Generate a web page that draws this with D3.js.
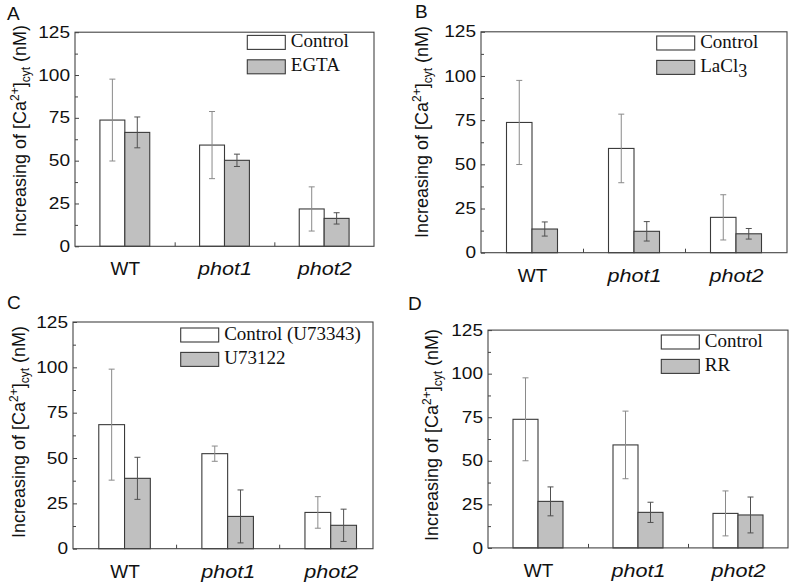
<!DOCTYPE html>
<html>
<head>
<meta charset="utf-8">
<script src="https://cdn.jsdelivr.net/npm/d3@7"></script>
<style>
  html, body { margin: 0; padding: 0; background: #fff; }
  svg { display: block; }
</style>
</head>
<body>
<svg id="chart" width="791" height="582"></svg>
<script>
// ---------- DATA ----------
const categories = ["WT", "phot1", "phot2"];
const italicCategory = [false, true, true];
const yTicks = [0, 25, 50, 75, 100, 125];
const yMinorTicks = [12.5, 37.5, 62.5, 87.5, 112.5];
const xMinorTicks = [1.5, 2.5];
const panelLetters = ["A", "B", "C", "D"];
const controlNames = ["Control", "Control", "Control (U73343)", "Control"];
const treatmentNames = ["EGTA", "LaCl3", "U73122", "RR"];

// Panel A: Control vs EGTA
const controlA = [73.7, 59.1, 21.8];
const controlSdA = [23.9, 19.6, 12.9];
const egta = [66.5, 50.2, 16.3];
const egtaSd = [9.0, 3.6, 3.3];
// Panel B: Control vs LaCl3
const controlB = [73.7, 59.0, 20.0];
const controlSdB = [23.8, 19.4, 12.8];
const lacl3 = [13.4, 12.1, 10.7];
const lacl3Sd = [4.0, 5.5, 3.0];
// Panel C: Control (U73343) vs U73122
const controlC = [68.4, 52.4, 20.0];
const controlSdC = [30.6, 4.2, 8.7];
const u73122 = [38.8, 17.8, 12.9];
const u73122Sd = [11.6, 14.6, 8.9];
// Panel D: Control vs RR
const controlD = [73.8, 59.1, 19.8];
const controlSdD = [23.8, 19.4, 12.9];
const rr = [26.7, 20.4, 18.9];
const rrSd = [8.3, 5.8, 10.3];

const controlSeries = [controlA, controlB, controlC, controlD];
const controlSdSeries = [controlSdA, controlSdB, controlSdC, controlSdD];
const treatSeries = [egta, lacl3, u73122, rr];
const treatSdSeries = [egtaSd, lacl3Sd, u73122Sd, rrSd];

// ---------- LAYOUT ----------
const layouts = [
  {left: 75, right: 374, top: 32.2, bottom: 246.3, xMax: 3.5, lx: 7, ly: 20, tx: 26, tcy: 131, legX: 247.3, legY: 35.4},
  {left: 481, right: 787, top: 31.8, bottom: 252.7, xMax: 3.5, lx: 415, ly: 18, tx: 428, tcy: 132, legX: 656.7, legY: 36},
  {left: 73, right: 373, top: 322, bottom: 548.7, xMax: 3.41, lx: 7, ly: 308.5, tx: 25, tcy: 432, legX: 180.7, legY: 328},
  {left: 488, right: 788, top: 330.1, bottom: 547.9, xMax: 3.5, lx: 408, ly: 309.5, tx: 438, tcy: 435, legX: 661.3, legY: 335}
];

const SANS = "'Liberation Sans', Arial, sans-serif";
const SERIF = "'Liberation Serif', 'Times New Roman', serif";
const GRAY = "#c0c0c0";
const STROKE = "#3a3a3a";

const svg = d3.select("#chart");
svg.append("rect").attr("width", 791).attr("height", 582).attr("fill", "#fff");

panelLetters.forEach((letter, p) => {
  const L = layouts[p];
  const g = svg.append("g");
  const x = d3.scaleLinear().domain([0.5, L.xMax]).range([L.left, L.right]);
  const y = d3.scaleLinear().domain([0, 125]).range([L.bottom, L.top]);
  const bw = x(1.25) - x(1);

  // panel letter
  g.append("text").attr("x", L.lx).attr("y", L.ly)
    .attr("font-family", SANS).attr("font-size", 19).attr("fill", "#111").text(letter);

  // y title
  const t = g.append("text")
    .attr("transform", `translate(${L.tx},${L.tcy}) rotate(-90)`)
    .attr("text-anchor", "middle")
    .attr("font-family", SANS).attr("font-size", 18).attr("fill", "#111");
  t.append("tspan").text("Increasing of [Ca");
  t.append("tspan").attr("font-size", 12).attr("dy", -7).text("2+");
  t.append("tspan").attr("dy", 7).text("]");
  t.append("tspan").attr("font-size", 12).attr("dy", 4).text("cyt");
  t.append("tspan").attr("dy", -4).text(" (nM)");

  // bars
  const ctrl = controlSeries[p], ctrlSd = controlSdSeries[p];
  const trt = treatSeries[p], trtSd = treatSdSeries[p];

  g.append("g").selectAll("rect").data(ctrl).join("rect")
    .attr("x", (d, i) => x(i + 1) - bw).attr("width", bw)
    .attr("y", d => y(d)).attr("height", d => y(0) - y(d))
    .attr("fill", "#fff").attr("stroke", STROKE).attr("stroke-width", 1.1);
  g.append("g").selectAll("rect").data(trt).join("rect")
    .attr("x", (d, i) => x(i + 1)).attr("width", bw)
    .attr("y", d => y(d)).attr("height", d => y(0) - y(d))
    .attr("fill", GRAY).attr("stroke", STROKE).attr("stroke-width", 1.1);

  // error bars
  function errBars(vals, sds, offset, color) {
    const eg = g.append("g").attr("stroke", color).attr("stroke-width", 1).attr("fill", "none");
    vals.forEach((v, i) => {
      const cx = x(i + 1 + offset);
      const hi = y(v + sds[i]), lo = y(v - sds[i]);
      eg.append("line").attr("x1", cx).attr("x2", cx).attr("y1", hi).attr("y2", lo);
      eg.append("line").attr("x1", cx - 3).attr("x2", cx + 3).attr("y1", hi).attr("y2", hi);
      eg.append("line").attr("x1", cx - 3).attr("x2", cx + 3).attr("y1", lo).attr("y2", lo);
    });
  }
  errBars(ctrl, ctrlSd, -0.125, "#8a8a8a");
  errBars(trt, trtSd, 0.125, "#505050");

  // frame
  g.append("rect").attr("x", L.left).attr("y", L.top)
    .attr("width", L.right - L.left).attr("height", L.bottom - L.top)
    .attr("fill", "none").attr("stroke", "#444").attr("stroke-width", 1.1);

  // y axis major
  const ya = g.append("g").attr("transform", `translate(${L.left},0)`)
    .call(d3.axisLeft(y).tickValues(yTicks).tickSize(-4).tickPadding(5).tickFormat(d3.format("d")));
  ya.select(".domain").remove();
  ya.selectAll(".tick line").attr("stroke", "#444");
  ya.selectAll(".tick text")
    .attr("font-family", SANS).attr("font-size", 16).attr("fill", "#111")
    .attr("textLength", d => String(d).length * 10.6)
    .attr("lengthAdjust", "spacingAndGlyphs");
  // y axis minor
  const ym = g.append("g").attr("transform", `translate(${L.left},0)`)
    .call(d3.axisLeft(y).tickValues(yMinorTicks).tickSize(-3).tickFormat(""));
  ym.select(".domain").remove();
  ym.selectAll(".tick line").attr("stroke", "#444");

  // x axis minor (boundaries)
  const xm = g.append("g").attr("transform", `translate(0,${L.bottom})`)
    .call(d3.axisBottom(x).tickValues(xMinorTicks).tickSize(-4).tickFormat(""));
  xm.select(".domain").remove();
  xm.selectAll(".tick line").attr("stroke", "#444");

  // x category labels
  const xa = g.append("g").attr("transform", `translate(0,${L.bottom})`)
    .call(d3.axisBottom(x).tickValues([1, 2, 3]).tickSize(0).tickPadding(15.5)
      .tickFormat(d => categories[d - 1]));
  xa.select(".domain").remove();
  xa.selectAll(".tick text")
    .attr("font-family", SANS).attr("font-size", 19).attr("fill", "#111")
    .attr("font-style", d => italicCategory[d - 1] ? "italic" : "normal")
    .each(function (d) {
      if (italicCategory[d - 1]) {
        d3.select(this).attr("textLength", 54).attr("lengthAdjust", "spacingAndGlyphs");
      }
    });

  // legend
  const lg = g.append("g").attr("font-family", SERIF).attr("font-size", 19).attr("fill", "#111");
  const rows = [{name: controlNames[p], fill: "#fff"}, {name: treatmentNames[p], fill: GRAY}];
  rows.forEach((r, k) => {
    const ry = L.legY + k * 24.4;
    lg.append("rect").attr("x", L.legX).attr("y", ry).attr("width", 38).attr("height", 14)
      .attr("fill", r.fill).attr("stroke", STROKE).attr("stroke-width", 1.1);
    const tx = lg.append("text").attr("x", L.legX + 43.5).attr("y", ry + 11.5);
    const m = r.name.match(/^(.*?)(\d)$/);
    if (r.name === "LaCl3" && m) {
      tx.append("tspan").text(m[1]);
      tx.append("tspan").attr("dy", 5).attr("font-size", 18).text(m[2]);
    } else {
      tx.text(r.name);
    }
  });
});
</script>
</body>
</html>
